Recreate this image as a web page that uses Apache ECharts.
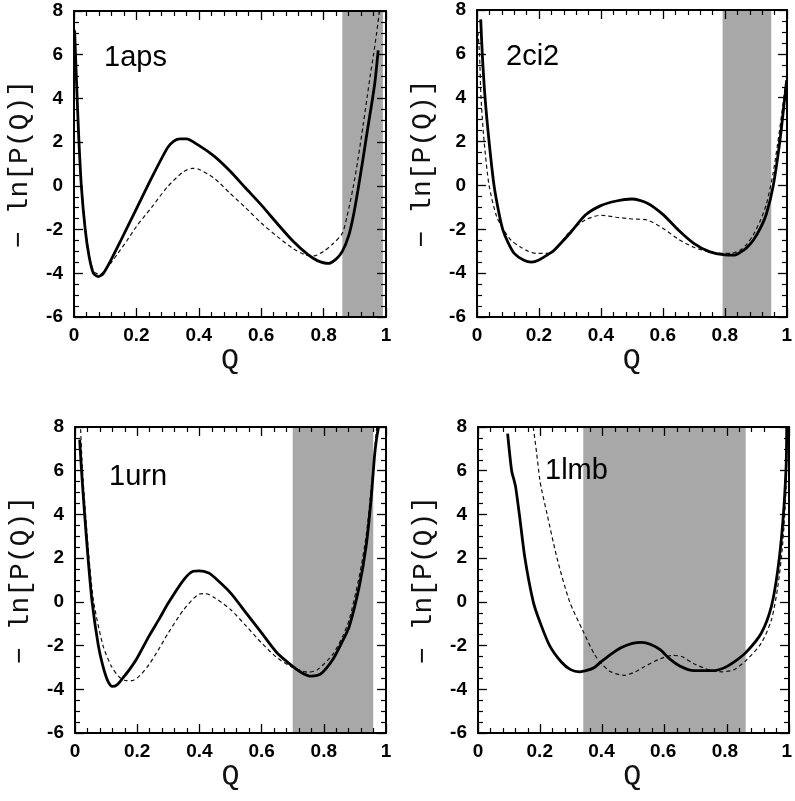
<!DOCTYPE html>
<html>
<head>
<meta charset="utf-8">
<script src="https://cdn.jsdelivr.net/npm/echarts@6/dist/echarts.min.js"></script>
<style>
html,body{margin:0;padding:0;background:#fff;}
#wrap{position:relative;width:795px;height:801px;background:#fff;}
#plot,#axes{position:absolute;left:0;top:0;width:795px;height:801px;}
#plot{z-index:1;}
#axes{z-index:2;}
</style>
</head>
<body>
<div id="wrap"><div id="plot"></div><div id="axes"></div></div>
<script>
// ---------- DATA ----------
const panelNames = ['1aps', '2ci2', '1urn', '1lmb'];
const xTicks = [0, 0.2, 0.4, 0.6, 0.8, 1];
const yTicks = [-6, -4, -2, 0, 2, 4, 6, 8];

// shaded (gray) Q ranges
const band_1aps = [0.86, 0.99];
const band_2ci2 = [0.793, 0.95];
const band_1urn = [0.70, 0.959];
const band_1lmb = [0.341, 0.867];

// 1aps
const q_1aps_solid = [0.002,0.008,0.015,0.0235,0.036,0.048,0.062,0.078,0.094,0.12,0.15,0.2,0.25,0.3,0.32,0.34,0.36,0.4,0.45,0.5,0.55,0.6,0.65,0.7,0.75,0.78,0.815,0.84,0.86,0.88,0.895,0.91,0.927,0.94,0.949,0.958,0.965,0.975];
const v_1aps_solid = [7.1,4.8,2.3,0.0,-2.0,-3.2,-4.0,-4.15,-4.0,-3.35,-2.5,-1.05,0.4,1.75,2.05,2.15,2.15,1.85,1.35,0.68,-0.1,-0.87,-1.7,-2.5,-3.15,-3.42,-3.55,-3.35,-3.0,-2.3,-1.4,-0.2,1.3,2.5,3.3,4.1,4.8,6.2];
const q_1aps_dash = [0.002,0.008,0.015,0.024,0.037,0.05,0.065,0.085,0.1,0.12,0.14,0.17,0.2,0.25,0.3,0.35,0.38,0.4,0.45,0.5,0.55,0.6,0.65,0.7,0.74,0.77,0.8,0.83,0.86,0.875,0.895,0.91,0.927,0.94,0.949,0.96,0.97,0.98];
const v_1aps_dash = [7.2,4.8,2.3,0.0,-2.0,-3.3,-3.95,-4.05,-3.85,-3.5,-3.1,-2.5,-1.86,-0.96,-0.04,0.64,0.8,0.76,0.34,-0.34,-1.0,-1.7,-2.3,-2.85,-3.15,-3.2,-3.0,-2.65,-2.17,-1.4,-0.05,1.2,2.8,4.1,5.0,6.0,7.0,8.1];

// 2ci2
const q_2ci2_solid = [0.012,0.017,0.026,0.039,0.055,0.07,0.083,0.1,0.12,0.15,0.176,0.2,0.235,0.25,0.3,0.35,0.4,0.45,0.5,0.55,0.6,0.65,0.7,0.75,0.8,0.83,0.85,0.87,0.892,0.915,0.935,0.956,0.977,0.993,1.0];
const v_2ci2_solid = [7.57,6.0,4.0,2.0,0.0,-1.2,-2.0,-2.6,-3.1,-3.4,-3.5,-3.4,-3.1,-2.94,-2.18,-1.35,-0.92,-0.71,-0.62,-0.81,-1.32,-2.03,-2.64,-3.02,-3.17,-3.18,-3.05,-2.85,-2.5,-1.95,-1.27,-0.05,1.92,3.9,4.8];
const q_2ci2_dash = [0.003,0.008,0.013,0.023,0.039,0.063,0.085,0.11,0.139,0.165,0.19,0.23,0.26,0.3,0.35,0.4,0.45,0.5,0.55,0.6,0.65,0.7,0.75,0.8,0.82,0.85,0.87,0.892,0.915,0.935,0.956,0.977,0.995,1.0];
const v_2ci2_dash = [7.0,6.0,4.0,2.0,0.0,-1.4,-2.0,-2.5,-2.8,-3.0,-3.1,-3.1,-2.8,-2.1,-1.57,-1.36,-1.45,-1.53,-1.58,-1.95,-2.45,-2.82,-3.03,-3.1,-3.1,-2.95,-2.7,-2.26,-1.6,-0.82,0.55,2.53,4.5,5.0];

// 1urn
const q_1urn_solid = [0.015,0.021,0.031,0.042,0.055,0.075,0.09,0.105,0.12,0.135,0.154,0.175,0.197,0.238,0.27,0.3,0.35,0.38,0.4,0.43,0.45,0.5,0.55,0.6,0.65,0.7,0.73,0.759,0.79,0.829,0.86,0.882,0.914,0.936,0.952,0.963,0.97,0.976];
const v_1urn_solid = [7.42,6.0,4.0,2.0,0.0,-2.0,-2.95,-3.6,-3.87,-3.8,-3.48,-3.1,-2.64,-1.57,-0.8,-0.05,1.02,1.4,1.42,1.32,1.1,0.41,-0.5,-1.42,-2.34,-2.95,-3.25,-3.4,-3.3,-2.64,-1.8,-1.12,0.71,2.54,4.68,6.66,7.5,8.0];
const q_1urn_dash = [0.018,0.024,0.034,0.045,0.06,0.09,0.117,0.143,0.165,0.185,0.21,0.238,0.27,0.3,0.35,0.4,0.42,0.45,0.5,0.55,0.6,0.65,0.7,0.75,0.78,0.829,0.86,0.882,0.914,0.936,0.952,0.963,0.97];
const v_1urn_dash = [7.9,6.0,4.0,2.0,0.0,-2.0,-2.95,-3.45,-3.6,-3.6,-3.35,-2.87,-2.15,-1.42,-0.35,0.36,0.38,0.18,-0.35,-1.1,-1.88,-2.56,-3.0,-3.22,-3.1,-2.4,-1.6,-0.8,1.17,3.0,5.13,6.8,8.0];

// 1lmb
const q_1lmb_solid = [0.096,0.109,0.118,0.122,0.134,0.152,0.179,0.2,0.232,0.27,0.3,0.329,0.35,0.377,0.398,0.43,0.463,0.5,0.53,0.56,0.591,0.62,0.655,0.7,0.76,0.8,0.83,0.869,0.917,0.95,0.971,0.987,0.998,1.0];
const v_1lmb_solid = [7.7,6.0,5.5,5.25,4.0,2.0,0.0,-0.9,-2.0,-2.75,-3.1,-3.2,-3.15,-3.0,-2.75,-2.4,-2.1,-1.9,-1.85,-1.95,-2.2,-2.6,-2.95,-3.15,-3.15,-3.0,-2.75,-2.3,-1.45,-0.23,1.45,3.58,6.17,8.0];
const q_1lmb_dash = [0.179,0.19,0.2,0.205,0.224,0.256,0.297,0.339,0.377,0.398,0.43,0.473,0.51,0.537,0.591,0.63,0.66,0.698,0.752,0.79,0.83,0.869,0.917,0.95,0.971,0.987,0.998,1.0];
const v_1lmb_dash = [8.0,6.8,5.6,5.2,4.0,2.0,0.0,-1.3,-2.4,-2.8,-3.2,-3.36,-3.2,-2.98,-2.6,-2.45,-2.5,-2.82,-3.13,-3.2,-3.1,-2.67,-1.9,-0.84,0.68,2.66,5.26,8.0];

// ---------- LAYOUT ----------
const panels = [
  {name: panelNames[0], grid: {left: 74, top: 11, width: 312, height: 306}, band: band_1aps,
   solid: [q_1aps_solid, v_1aps_solid], dash: [q_1aps_dash, v_1aps_dash], label: {left: 104, top: 43}},
  {name: panelNames[1], grid: {left: 477, top: 10, width: 310, height: 307}, band: band_2ci2,
   solid: [q_2ci2_solid, v_2ci2_solid], dash: [q_2ci2_dash, v_2ci2_dash], label: {left: 506, top: 42}},
  {name: panelNames[2], grid: {left: 75, top: 427, width: 311, height: 306}, band: band_1urn,
   solid: [q_1urn_solid, v_1urn_solid], dash: [q_1urn_dash, v_1urn_dash], label: {left: 109, top: 462}},
  {name: panelNames[3], grid: {left: 478, top: 427, width: 311, height: 306}, band: band_1lmb,
   solid: [q_1lmb_solid, v_1lmb_solid], dash: [q_1lmb_dash, v_1lmb_dash], label: {left: 545, top: 456}}
];

const zip = (q, v) => q.map((x, i) => [x, v[i]]);
const monoFont = 'Liberation Mono';
const labelFont = 'Liberation Sans';

// ---- layer 1 (top): axis frame with major/minor inside ticks ----
function mkAxis(i, ticks, minorSplit, extra) {
  return Object.assign({
    gridIndex: i, type: 'value', min: ticks[0], max: ticks[ticks.length - 1], interval: ticks[1] - ticks[0],
    axisLine: {show: true, onZero: false, lineStyle: {color: '#000', width: 2}},
    axisTick: {show: true, inside: true, length: 9, lineStyle: {color: '#000', width: 1.3}},
    minorTick: {show: true, splitNumber: minorSplit, length: 5, lineStyle: {color: '#000', width: 1.2}},
    axisLabel: {show: false},
    splitLine: {show: false}
  }, extra);
}
const gridsA = [], xA = [], yA = [], seriesA = [];
panels.forEach((p, i) => {
  gridsA.push({left: p.grid.left, top: p.grid.top, width: p.grid.width, height: p.grid.height});
  const xi = xA.length, yi = yA.length;
  xA.push(mkAxis(i, xTicks, 5, {position: 'bottom'}));
  yA.push(mkAxis(i, yTicks, 4, {position: 'left'}));
  xA.push(mkAxis(i, xTicks, 5, {position: 'top'}));
  yA.push(mkAxis(i, yTicks, 4, {position: 'right'}));
  seriesA.push({type: 'line', xAxisIndex: xi, yAxisIndex: yi, silent: true, showSymbol: false,
    data: [[p.band[0], yTicks[0]], [p.band[1], yTicks[0]]], lineStyle: {opacity: 0}});
});
const chartA = echarts.init(document.getElementById('axes'));
chartA.setOption({animation: false, grid: gridsA, xAxis: xA, yAxis: yA, series: seriesA});

// ---- layer 2 (below): tick labels, axis names, shaded bands, curves, panel labels ----
const gridsB = [], xB = [], yB = [], seriesB = [], titles = [];
const hidden = {axisLine: {show: false}, axisTick: {show: false}, minorTick: {show: false},
  splitLine: {show: false}};
panels.forEach((p, i) => {
  gridsB.push({left: p.grid.left, top: p.grid.top, width: p.grid.width, height: p.grid.height});
  xB.push(Object.assign({gridIndex: i, type: 'value', min: xTicks[0], max: xTicks[xTicks.length - 1],
    interval: xTicks[1] - xTicks[0], position: 'bottom',
    name: 'Q', nameLocation: 'middle', nameGap: 22,
    nameTextStyle: {fontFamily: monoFont, fontSize: 30, color: '#111'},
    axisLabel: {margin: 9, fontFamily: labelFont, fontSize: 19, fontWeight: 'bold', color: '#000'}}, hidden));
  yB.push(Object.assign({gridIndex: i, type: 'value', min: yTicks[0], max: yTicks[yTicks.length - 1],
    interval: yTicks[1] - yTicks[0], position: 'left',
    name: '\u2212 ln[P(Q)]', nameLocation: 'middle', nameGap: 40, nameRotate: 90,
    nameTextStyle: {fontFamily: monoFont, fontSize: 28, color: '#111'},
    axisLabel: {margin: 11, fontFamily: labelFont, fontSize: 19, fontWeight: 'bold', color: '#000'}}, hidden));

  seriesB.push({type: 'line', xAxisIndex: i, yAxisIndex: i, silent: true, z: 1,
    data: [[p.band[0], yTicks[0]], [p.band[1], yTicks[0]]], showSymbol: false,
    lineStyle: {opacity: 0},
    markArea: {silent: true, itemStyle: {color: '#a8a8a8', opacity: 1},
      data: [[{xAxis: p.band[0]}, {xAxis: p.band[1]}]]}});
  seriesB.push({type: 'line', xAxisIndex: i, yAxisIndex: i, z: 3, data: zip(p.dash[0], p.dash[1]),
    showSymbol: false, smooth: 0.25,
    lineStyle: {color: '#111', width: 1.2, type: [4, 3]}});
  seriesB.push({type: 'line', xAxisIndex: i, yAxisIndex: i, z: 4, data: zip(p.solid[0], p.solid[1]),
    showSymbol: false, smooth: 0.25,
    lineStyle: {color: '#000', width: 2.8}});
  titles.push({text: p.name, left: p.label.left, top: p.label.top, padding: 0,
    textStyle: {fontFamily: labelFont, fontSize: 29, fontWeight: 'normal', color: '#000'}});
});
const chartB = echarts.init(document.getElementById('plot'));
chartB.setOption({animation: false, title: titles, grid: gridsB, xAxis: xB, yAxis: yB, series: seriesB});
</script>
</body>
</html>
